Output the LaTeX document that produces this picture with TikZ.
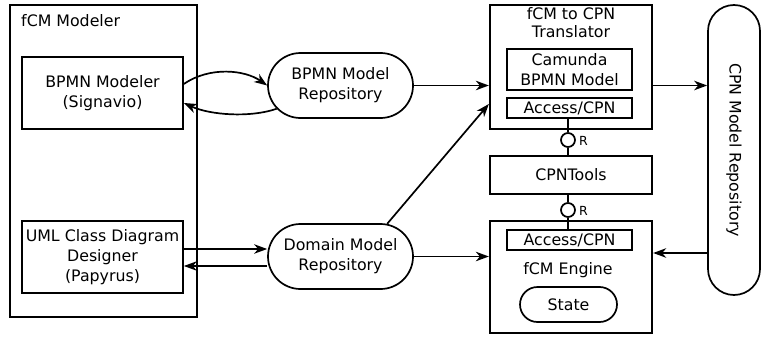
\documentclass[tikz,border=0pt]{standalone}
\usepackage{fontspec}
\setmainfont{DejaVu Sans}
\usetikzlibrary{arrows.meta,shapes.misc}
\begin{document}
\begin{tikzpicture}[x=1pt,y=-1pt,
  font=\fontsize{15.8}{20}\selectfont,
  outerbox/.style={draw, line width=2.3pt, inner sep=0pt},
  innerbox/.style={draw, line width=1.7pt, inner sep=0pt, align=center},
  repo/.style={draw, rounded rectangle, line width=1.7pt, inner sep=0pt, align=center},
  arr/.style={line width=1.7pt, -{Stealth[length=13pt,width=9.5pt,inset=4pt]}},
  conn/.style={line width=1.7pt},
  circ/.style={draw, circle, minimum size=14pt, inner sep=0pt, line width=1.7pt},
  lbl/.style={font=\fontsize{12.5}{14}\selectfont, inner sep=0pt}]
\useasboundingbox (0,0) rectangle (762,337);

\node[outerbox, minimum width=187, minimum height=312] (modeler) at (103.5,161) {};
\node[anchor=base west, inner sep=0pt] (modlbl) at (21,26.5) {fCM Modeler};
\node[innerbox, minimum width=161, minimum height=72] (bpmnmod) at (102.5,93) {BPMN Modeler\\(Signavio)};
\node[innerbox, minimum width=161, minimum height=72] (uml) at (102.5,257) {UML Class Diagram\\Designer\\(Papyrus)};

\node[repo, minimum width=145, minimum height=65] (brepo) at (340.5,85.5) {BPMN Model\\Repository};
\node[repo, minimum width=145, minimum height=65] (drepo) at (340.5,256.5) {Domain Model\\Repository};

\node[outerbox, minimum width=162, minimum height=124] (trans) at (571,67) {};
\node[align=center, font=\fontsize{15.8}{17.5}\selectfont, inner sep=0pt] (translbl) at (571,22.6) {fCM to CPN\\Translator};
\node[innerbox, minimum width=125, minimum height=41] (camunda) at (569.5,69.5) {Camunda\\BPMN Model};
\node[innerbox, minimum width=125, minimum height=20] (acc1) at (569.5,108) {Access/CPN};

\node[circ] (r1) at (568,140) {};
\node[lbl, anchor=west] (r1lbl) at (579,141) {R};
\node[innerbox, minimum width=162, minimum height=38] (cpntools) at (571,175) {CPNTools};
\node[circ] (r2) at (568,210) {};
\node[lbl, anchor=west] (r2lbl) at (579,211) {R};

\node[outerbox, minimum width=162, minimum height=112] (engine) at (571,277) {};
\node[innerbox, minimum width=125, minimum height=20] (acc2) at (569.5,240) {Access/CPN};
\node (englbl) at (568,270) {fCM Engine};
\node[repo, minimum width=97, minimum height=35] (state) at (568.5,304.5) {State};

\node[repo, rotate=-90, minimum width=290, minimum height=52] (cpnrepo) at (734,150) {CPN Model Repository};

% connectors
\draw[arr] ([yshift=9pt]bpmnmod.east) .. controls (210,66) and (245,70) .. (brepo.west);
\draw[arr] (brepo.200) .. controls (250,118) and (210,115) .. ([yshift=-10pt]bpmnmod.east);

\coordinate (u1) at ([yshift=8pt]uml.east);
\coordinate (u2) at ([yshift=-9pt]uml.east);
\draw[arr] (u1) -- (u1 -| drepo.west);
\draw[arr] (u2 -| drepo.west) -- (u2);

\draw[arr] (brepo.east) -- (brepo.east -| trans.west);
\draw[arr] (drepo.35) -- ([yshift=-37pt]trans.west);
\draw[arr] (drepo.east) -- (drepo.east -| engine.west);

\draw[arr] (brepo.east -| trans.east) -- (brepo.east -| cpnrepo.south);
\coordinate (e1) at ([yshift=24pt]engine.east);
\draw[arr] (e1 -| cpnrepo.south) -- (e1);

\draw[conn] (r1 |- acc1.south) -- (r1.north);
\draw[conn] (r1.south) -- (r1 |- cpntools.north);
\draw[conn] (r2 |- cpntools.south) -- (r2.north);
\draw[conn] (r2.south) -- (r2 |- acc2.north);
\end{tikzpicture}
\end{document}
